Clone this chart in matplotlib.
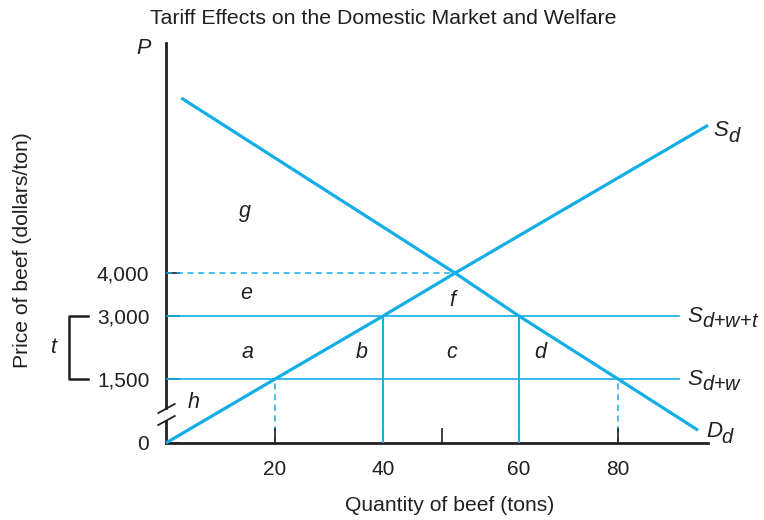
import numpy as np
import matplotlib.pyplot as plt
from matplotlib.transforms import blended_transform_factory

plt.rcParams['font.family'] = ['Liberation Sans', 'DejaVu Sans']
plt.rcParams['mathtext.fontset'] = 'custom'
plt.rcParams['mathtext.it'] = 'Liberation Sans:italic'
plt.rcParams['mathtext.rm'] = 'Liberation Sans'

# --- data (tons, dollars/ton) ---
world_price = 1500
tariff_price = 3000
eq_price = 4000
eq_qty = 51.7

q_ticks = [20, 40, 50, 60, 80]
q_tick_labels = ['20', '40', '', '60', '80']
p_ticks = [0, 1500, 3000, 4000]
p_tick_labels = ['0', '1,500', '3,000', '4,000']

supply_q = [0, 20, 40, eq_qty, 98]
supply_p = [0, 1500, 3000, eq_price, 7360]
demand_q = [2.8, eq_qty, 60, 80, 96]
demand_p = [7980, eq_price, 3000, 1500, 300]

# quantities at the two price lines
q_supply_world, q_demand_world = 20, 80
q_supply_tariff, q_demand_tariff = 40, 60
line_end_q = 92.2

region_labels = ['g', 'e', 'f', 'a', 'b', 'c', 'd', 'h']
region_q = [14.5, 14.7, 51.4, 14.9, 36.1, 51.3, 64.2, 5.0]
region_p = [5400, 3530, 3370, 2120, 2120, 2120, 2120, 940]

# schematic (not to scale) axes: piecewise linear spacing as in the textbook figure
x_anchor = [0, 20, 40, 50, 60, 80, 200]
x_units = [0, 109, 217, 276, 353, 452, 1052]
y_anchor = [0, 1500, 3000, 4000, 20000]
y_units = [0, 64, 127, 170, 874]


def fwd_x(q):
    return np.interp(q, x_anchor, x_units)


def inv_x(u):
    return np.interp(u, x_units, x_anchor)


def fwd_y(p):
    return np.interp(p, y_anchor, y_units)


def inv_y(v):
    return np.interp(v, y_units, y_anchor)


blue = '#13aee6'
dark = '#231f20'

fig = plt.figure(figsize=(7.64, 5.2), dpi=100)
ax = fig.add_axes([166 / 764, 77 / 520, 542 / 764, 400 / 520])
ax.set_xscale('function', functions=(fwd_x, inv_x))
ax.set_yscale('function', functions=(fwd_y, inv_y))
ax.set_xlim(0, 98)
ax.set_ylim(0, 9230)

# supply and demand
ax.plot(supply_q, supply_p, color=blue, lw=2.3, zorder=4, clip_on=False, solid_capstyle='butt')
ax.plot(demand_q, demand_p, color=blue, lw=2.3, zorder=4, clip_on=False, solid_capstyle='butt')

# world price lines
ax.plot([0, line_end_q], [tariff_price, tariff_price], color=blue, lw=1.2, zorder=3)
ax.plot([0, line_end_q], [world_price, world_price], color=blue, lw=1.2, zorder=3)
ax.plot([0, eq_qty], [eq_price, eq_price], color=blue, lw=1.1, ls=(0, (4, 3)), zorder=3)

# drop lines
ax.plot([q_supply_world] * 2, [0, world_price], color=blue, lw=1.1, ls=(0, (4, 3)), zorder=1)
ax.plot([q_demand_world] * 2, [0, world_price], color=blue, lw=1.1, ls=(0, (4, 3)), zorder=1)
ax.plot([q_supply_tariff] * 2, [0, tariff_price], color=blue, lw=1.4, zorder=3)
ax.plot([q_demand_tariff] * 2, [0, tariff_price], color=blue, lw=1.4, zorder=3)


def curve_label(main, sub, xy, dx, dy):
    # big italic letter with a large, lowered subscript
    ax.annotate(main, xy=xy, xytext=(dx, dy), textcoords='offset points', fontsize=16,
                style='italic', color=dark, va='baseline', ha='left')
    ax.annotate(sub, xy=xy, xytext=(dx + 10.5, dy - 4), textcoords='offset points', fontsize=14.5,
                color=dark, va='baseline', ha='left')


curve_label('S', r'$d$', (supply_q[-1], supply_p[-1]), 4, -8)
curve_label('D', r'$d$', (demand_q[-1], demand_p[-1]), 6, -5)
curve_label('S', r'$d\mathregular{+}w\mathregular{+}t$', (line_end_q, tariff_price), 6, -4)
curve_label('S', r'$d\mathregular{+}w$', (line_end_q, world_price), 6, -4)

for lab, q, p in zip(region_labels, region_q, region_p):
    ax.text(q, p, lab, fontsize=15.5, style='italic', color=dark, ha='center', va='center')

# axes styling
for side in ['top', 'right']:
    ax.spines[side].set_visible(False)
ax.spines['left'].set_color(dark)
ax.spines['bottom'].set_color(dark)
ax.spines['left'].set_linewidth(2)
ax.spines['bottom'].set_linewidth(2)
ax.spines['left'].set_bounds(820, 9230)
ax.plot([0, 0], [0, 540], color=dark, lw=2, clip_on=False, zorder=2.5, solid_capstyle='butt')
slash = [(-1, -0.55), (1, 0.55)]
ax.plot([0, 0], [820, 540], ls='none', marker=slash, ms=13, mew=1.3, color=dark, clip_on=False)

ax.set_xticks(q_ticks, q_tick_labels)
ax.set_yticks(p_ticks, p_tick_labels)
ax.tick_params(axis='x', direction='in', length=11, width=1.2, color=dark, pad=12, labelsize=15, labelcolor=dark)
ax.tick_params(axis='y', direction='in', length=10, width=1.2, color=dark, pad=12, labelsize=15, labelcolor=dark)
ax.minorticks_off()

ax.set_xlabel('Quantity of beef (tons)', fontsize=15.2, color=dark)
ax.xaxis.set_label_coords(0.524, -0.133)
ax.set_ylabel('Price of beef (dollars/ton)', fontsize=15.2, color=dark)
ax.yaxis.set_label_coords(-0.248, 0.4825)

ax.text(-0.042, 0.985, 'P', transform=ax.transAxes, fontsize=15.5, style='italic',
        color=dark, ha='center', va='center')

# tariff bracket
trans = blended_transform_factory(ax.transAxes, ax.transData)
ax.plot([-0.144, -0.179, -0.179, -0.144], [tariff_price, tariff_price, world_price, world_price],
        color=dark, lw=1.8, transform=trans, clip_on=False)
ax.text(-0.208, (tariff_price + world_price) / 2, 't', transform=trans, fontsize=15.5,
        style='italic', color=dark, ha='center', va='center')

fig.text(383 / 764, 1 - 18 / 520, 'Tariff Effects on the Domestic Market and Welfare',
         fontsize=15.3, color=dark, ha='center', va='center')

fig.savefig('out.png', dpi=100)
